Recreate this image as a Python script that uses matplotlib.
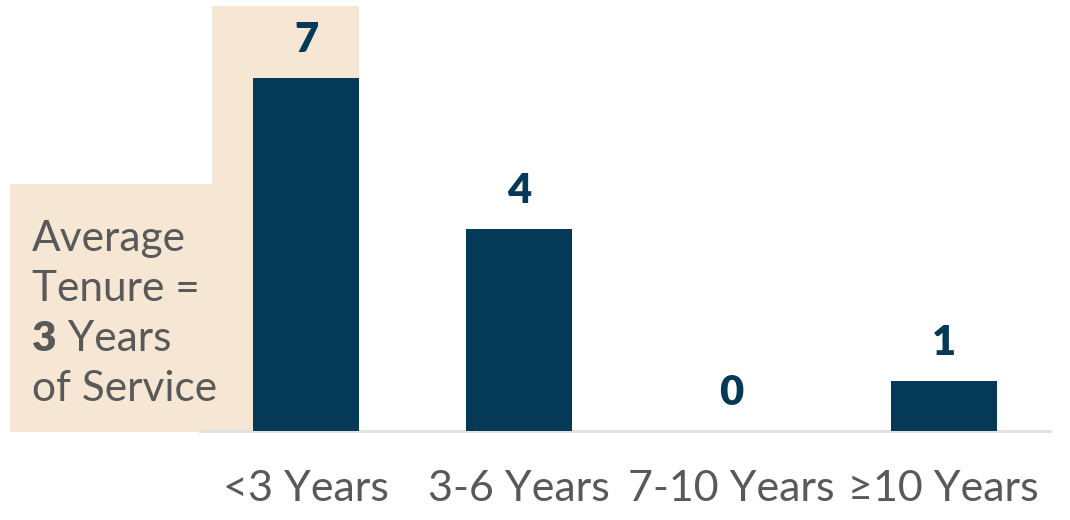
import matplotlib
matplotlib.use("Agg")
import matplotlib.pyplot as plt
from matplotlib.patches import Polygon

plt.rcParams['font.family'] = ['Lato', 'DejaVu Sans']

categories = ["<3 Years", "3-6 Years", "7-10 Years", "\u226510 Years"]
values = [7, 4, 0, 1]
note_lines = ["Average", "Tenure =", None, "of Service"]
note_bold = "3"
note_rest = " Years"

NAVY = "#043A58"
BEIGE = "#F6E6D4"
GRAY = "#595959"
LINE = "#E2E2E2"

W, H = 1070, 520
fig = plt.figure(figsize=(W / 100, H / 100), dpi=100)

# axes: x from 200 to 1050 px, baseline at 431 px from top, top at figure top
base_px = H - 431
ax = fig.add_axes([200 / W, base_px / H, 850 / W, (H - base_px) / H])
ax.set_zorder(2)
unit = 50.4
ax.set_xlim(-0.5, len(categories) - 0.5)
ax.set_ylim(0, (H - base_px) / unit)

# beige L-shaped highlight (figure pixel coords)
pts = [(10, 184), (212, 184), (212, 6), (359, 6), (359, 432), (10, 432)]
poly = Polygon([(x / W, 1 - y / H) for x, y in pts], closed=True,
               transform=fig.transFigure, facecolor=BEIGE, edgecolor='none', zorder=-1)
fig.patches.append(poly)
ax.set_facecolor('none')

x = list(range(len(categories)))
bars = ax.bar(x, values, width=0.5, color=NAVY, zorder=3)

for xi, v in zip(x, values):
    ax.annotate(str(v), xy=(xi, v), xytext=(0, 26 * 0.72), textcoords='offset points',
                ha='center', va='baseline', fontsize=30, fontweight='heavy', color=NAVY)

for s in ['top', 'right', 'left']:
    ax.spines[s].set_visible(False)
ax.spines['bottom'].set_color(LINE)
ax.spines['bottom'].set_linewidth(2.2)
ax.set_yticks([])
ax.set_xticks(x)
ax.set_xticklabels(categories, fontsize=31, color=GRAY)
ax.tick_params(axis='x', length=0, pad=28)

# note text
tx = 32 / W
baselines = [251, 301, 351, 401]
for line, b in zip(note_lines, baselines):
    if line is None:
        t3 = fig.text(tx, 1 - b / H, note_bold, fontsize=30.5, fontweight='heavy',
                      color=GRAY, va='baseline', ha='left', zorder=3)
        fig.canvas.draw()
        bb = t3.get_window_extent()
        fig.text(bb.x1 / W, 1 - b / H, note_rest, fontsize=30.5, color=GRAY,
                 va='baseline', ha='left', zorder=3)
    else:
        fig.text(tx, 1 - b / H, line, fontsize=30.5, color=GRAY, va='baseline',
                 ha='left', zorder=3)

fig.savefig("out.png", dpi=100, facecolor='white')
